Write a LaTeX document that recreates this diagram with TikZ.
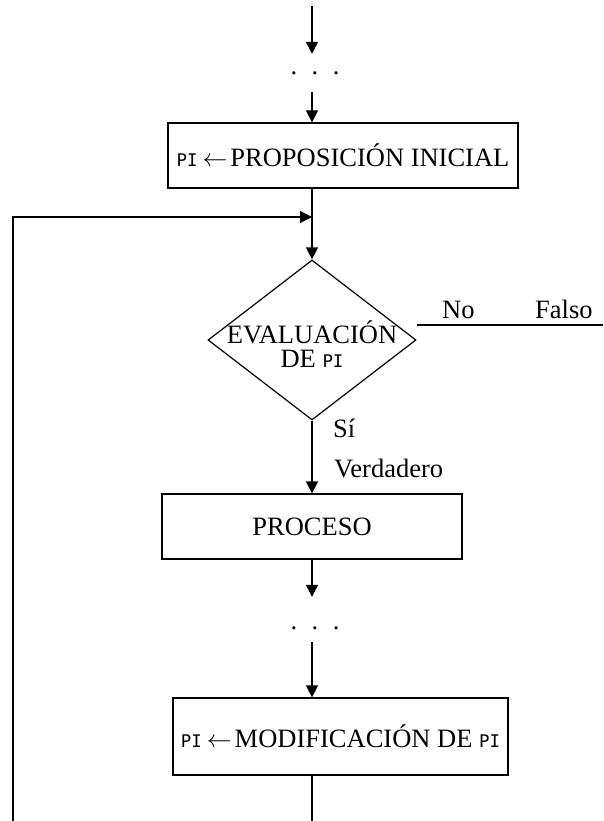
\documentclass[tikz,border=0pt]{standalone}
\usepackage{fontspec}
\setmainfont{Liberation Serif}
\newfontfamily\pifont{DejaVu Sans Mono}
\usetikzlibrary{arrows.meta,positioning,shapes.geometric}
\newcommand{\PIm}{{\pifont\fontsize{17.4}{20}\selectfont PI}}
\tikzset{
  caja/.style={draw=black,line width=1.2pt,rectangle,inner sep=0pt,align=center},
  rombo/.style={draw=black,line width=1.2pt,diamond,inner sep=0pt,
    minimum width=208pt,minimum height=160pt},
  flecha/.style={-{Triangle[length=12pt,width=12pt]},line width=1.2pt},
  linea/.style={line width=1.2pt},
  etiqueta/.style={inner sep=0pt,anchor=base west},
  puntos/.style={inner sep=0pt,minimum height=38pt},
}

\begin{document}
\begin{tikzpicture}[x=1pt,y=-1pt,font=\fontsize{26.5}{24}\selectfont]
  \useasboundingbox (0,0) rectangle (603,821);
  % eje principal
  \coordinate (inicio) at (312,6);
  \node[puntos] (p1) at (315,73) {.\hspace{14.5pt}.\hspace{14.5pt}.};
  \node[caja,minimum width=350pt,minimum height=65pt] (inicial) at (343,155.5)
    {\PIm\hspace{5pt}$\leftarrow$\hspace{3pt}PROPOSICIÓN INICIAL};
  \coordinate (entrada) at (312,217);
  \node[rombo,label={[align=center,yshift=-4pt]center:EVALUACIÓN\\DE \PIm}] (eval) at (312,340) {};
  \node[caja,minimum width=300pt,minimum height=65pt] (proceso) at (312,526.5) {PROCESO};
  \node[puntos,minimum height=28pt] (p2) at (315,628) {.\hspace{14.5pt}.\hspace{14.5pt}.};
  \node[caja,minimum width=335pt,minimum height=77pt] (modif) at (340.5,736.5)
    {\PIm\hspace{5pt}$\leftarrow$\hspace{3pt}MODIFICACIÓN DE \PIm};
  \coordinate (fin) at (312,821);
  \coordinate (lazo) at (13,821);
  \coordinate (falso) at (603,325);

  % etiquetas de las salidas
  \node[etiqueta] (no) at (442,318) {No};
  \node[etiqueta] (falsot) at (535,318) {Falso};
  \node[etiqueta] (si) at (333,437) {Sí};
  \node[etiqueta] (verdadero) at (334,477) {Verdadero};

  % conectores
  \draw[flecha] (inicio) -- (inicio |- p1.north);
  \draw[flecha] (inicio |- p1.south) -- (inicio |- inicial.north);
  \draw[linea] (inicio |- inicial.south) -- (entrada);
  \draw[flecha] (entrada) -- (eval.north);
  \draw[linea] (eval.east |- falso) -- (falso);
  \draw[flecha] (eval.south) -- (eval.south |- proceso.north);
  \draw[flecha,shorten >=17pt] (proceso.south -| fin) -- (p2.north -| fin);
  \draw[flecha] (p2.south -| fin) -- (modif.north -| fin);
  \draw[linea] (modif.south -| fin) -- (fin);
  \draw[flecha] (lazo) |- (entrada);
\end{tikzpicture}
\end{document}
